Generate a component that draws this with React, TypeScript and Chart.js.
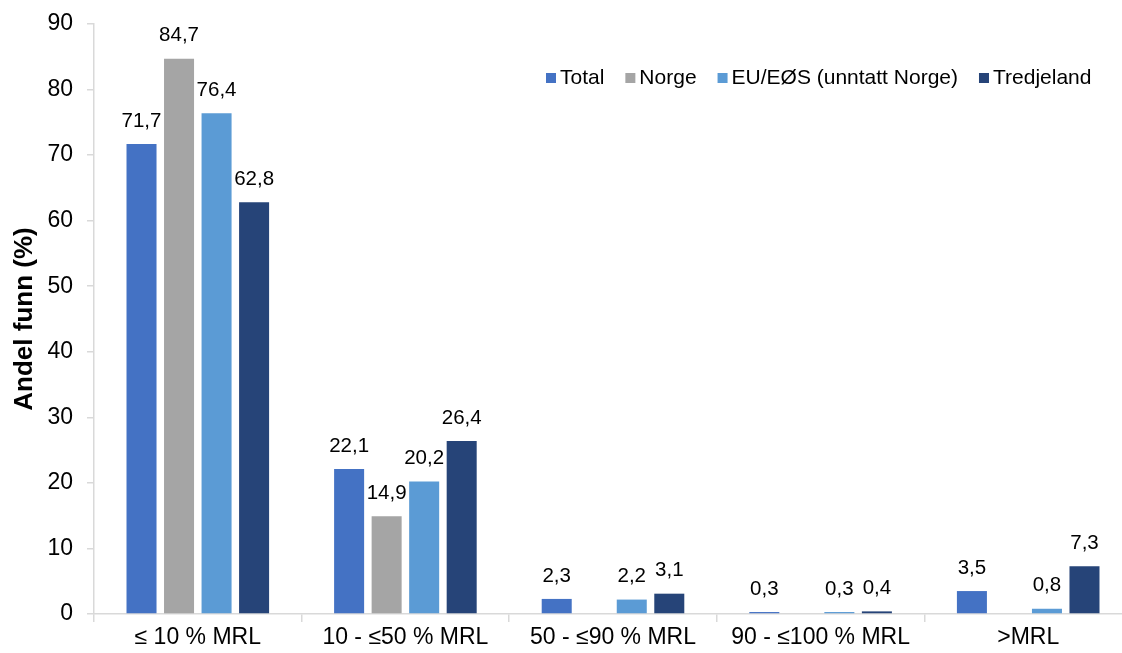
import React, { useEffect, useRef } from "react";
import { Chart, registerables } from "chart.js";

Chart.register(...registerables);

const categories = ["≤ 10 % MRL", "10 - ≤50 % MRL", "50 - ≤90 % MRL", "90 - ≤100 % MRL", ">MRL"];
const seriesNames = ["Total", "Norge", "EU/EØS (unntatt Norge)", "Tredjeland"];
const totalValues = [71.7, 22.1, 2.3, 0.3, 3.5];
const norgeValues: (number | null)[] = [84.7, 14.9, null, null, null];
const euValues = [76.4, 20.2, 2.2, 0.3, 0.8];
const tredjelandValues = [62.8, 26.4, 3.1, 0.4, 7.3];
const seriesColors = ["#4472C4", "#A5A5A5", "#5B9BD5", "#264478"];
const yTicks = [0, 10, 20, 30, 40, 50, 60, 70, 80, 90];

const FONT = "'Liberation Sans', Arial, sans-serif";

const labelPlugin = {
  id: "barLabels",
  afterDatasetsDraw(chart: any) {
    const ctx = chart.ctx;
    ctx.save();
    ctx.font = `20.5px ${FONT}`;
    ctx.fillStyle = "#000";
    ctx.textAlign = "center";
    ctx.textBaseline = "middle";
    chart.data.datasets.forEach((ds: any, i: number) => {
      const meta = chart.getDatasetMeta(i);
      meta.data.forEach((el: any, j: number) => {
        const v = ds.data[j];
        if (v === null || v === undefined) return;
        ctx.fillText(String(v).replace(".", ","), el.x, el.y - 23);
      });
    });
    ctx.restore();
  },
};

const legendPlugin = {
  id: "customLegend",
  afterDraw(chart: any) {
    const ctx = chart.ctx;
    ctx.save();
    ctx.font = `21px ${FONT}`;
    ctx.textBaseline = "middle";
    ctx.textAlign = "left";
    const y = 78;
    let x = 546;
    const box = 10;
    const gapBoxText = 4;
    const gapItems = 21;
    seriesNames.forEach((name, i) => {
      ctx.fillStyle = seriesColors[i];
      ctx.fillRect(x, y - box / 2, box, box);
      ctx.fillStyle = "#000";
      ctx.fillText(name, x + box + gapBoxText, y);
      x += box + gapBoxText + ctx.measureText(name).width + gapItems;
    });
    ctx.restore();
  },
};

export default function App() {
  const ref = useRef<HTMLCanvasElement | null>(null);
  useEffect(() => {
    if (!ref.current) return;
    const chart = new Chart(ref.current, {
      type: "bar",
      data: {
        labels: categories,
        datasets: [
          { label: seriesNames[0], data: totalValues, backgroundColor: seriesColors[0] },
          { label: seriesNames[1], data: norgeValues, backgroundColor: seriesColors[1] },
          { label: seriesNames[2], data: euValues, backgroundColor: seriesColors[2] },
          { label: seriesNames[3], data: tredjelandValues, backgroundColor: seriesColors[3] },
        ],
      },
      options: {
        animation: false,
        responsive: false,
        maintainAspectRatio: false,
        layout: { padding: { top: 24, right: 8, left: 0, bottom: 0 } },
        datasets: {
          bar: { categoryPercentage: 0.723, barPercentage: 0.8, borderWidth: 0 },
        },
        plugins: {
          legend: { display: false },
          tooltip: { enabled: false },
        },
        scales: {
          x: {
            grid: {
              display: true,
              drawOnChartArea: false,
              drawTicks: true,
              tickLength: 8,
              offset: true,
              color: "#D9D9D9",
              lineWidth: 1.5,
            },
            border: { display: true, color: "#D9D9D9", width: 1.5 },
            ticks: { color: "#000", font: { family: FONT, size: 23 }, padding: 2 },
            afterFit(scale: any) {
              scale.height = 39;
            },
          },
          y: {
            min: 0,
            max: 90,
            afterBuildTicks(scale: any) {
              scale.ticks = yTicks.map((v) => ({ value: v }));
            },
            grid: {
              display: true,
              drawOnChartArea: false,
              drawTicks: true,
              tickLength: 7,
              color: "#D9D9D9",
              lineWidth: 1.5,
            },
            border: { display: true, color: "#D9D9D9", width: 1.5 },
            ticks: { color: "#000", font: { family: FONT, size: 23 }, padding: 14 },
            title: {
              display: true,
              text: "Andel funn (%)",
              color: "#000",
              font: { family: FONT, size: 26, weight: "bold" },
              padding: { top: 9, bottom: 0 },
            },
            afterFit(scale: any) {
              scale.width = 94;
              scale.paddingTop = 0;
              scale.paddingBottom = 0;
            },
          },
        },
      },
      plugins: [labelPlugin, legendPlugin],
    });
    return () => chart.destroy();
  }, []);
  return (
    <div style={{ position: "fixed", left: 0, top: 0, width: 1140, height: 653, background: "#fff" }}>
      <canvas ref={ref} width={1140} height={653} style={{ width: 1140, height: 653, display: "block" }} />
    </div>
  );
}
